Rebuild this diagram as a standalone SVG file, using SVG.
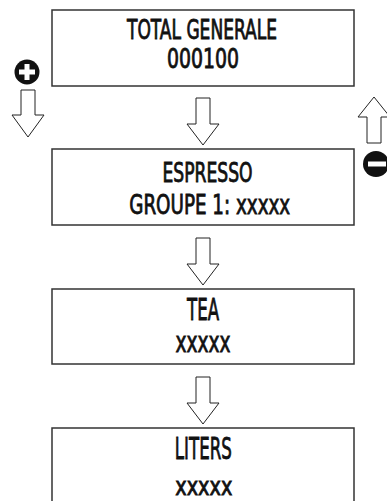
<svg xmlns="http://www.w3.org/2000/svg" width="387" height="501" viewBox="0 0 387 501">
<style>
.box{fill:#fff;stroke:#333;stroke-width:1.5}
.arr{fill:#fff;stroke:#222;stroke-width:1}
.t{font-family:"Liberation Sans Narrow","DejaVu Sans Condensed","Liberation Sans",sans-serif;font-weight:normal;fill:#111;stroke:#111;stroke-width:0.8;text-anchor:middle}
</style>
<rect width="387" height="501" fill="#fff"/>
<g id="node-total">
<rect class="box" x="52" y="10" width="302" height="76"/>
<text class="t" x="202" y="39.3" font-size="26" textLength="150" lengthAdjust="spacingAndGlyphs">TOTAL GENERALE</text>
<text class="t" x="203" y="68.3" font-size="26" textLength="72" lengthAdjust="spacingAndGlyphs">000100</text>
</g>
<g id="node-espresso">
<rect class="box" x="52" y="149" width="302" height="76"/>
<text class="t" x="207.5" y="182.3" font-size="26" textLength="90" lengthAdjust="spacingAndGlyphs">ESPRESSO</text>
<text class="t" x="209.7" y="214.3" font-size="26" textLength="161" lengthAdjust="spacingAndGlyphs">GROUPE 1: xxxxx</text>
</g>
<g id="node-tea">
<rect class="box" x="52" y="289" width="302" height="75"/>
<text class="t" x="203" y="320" font-size="31" textLength="32" lengthAdjust="spacingAndGlyphs">TEA</text>
<text class="t" x="203" y="351.7" font-size="28" textLength="55" lengthAdjust="spacingAndGlyphs">xxxxx</text>
</g>
<g id="node-liters">
<rect class="box" x="52" y="428" width="302" height="90"/>
<text class="t" x="203.3" y="459.3" font-size="31" textLength="57" lengthAdjust="spacingAndGlyphs">LITERS</text>
<text class="t" x="203.8" y="495" font-size="24" textLength="57" lengthAdjust="spacingAndGlyphs">xxxxx</text>
</g>
<g id="connectors">
<path class="arr" d="M196,98 H210 V124 H219 L203,145 L187,124 H196 Z"/>
<path class="arr" d="M196,238 H210 V264 H219 L203,285 L187,264 H196 Z"/>
<path class="arr" d="M196,377 H210 V403 H219 L203,424 L187,403 H196 Z"/>
<path class="arr" d="M21,90 H35 V115 H44 L28,137 L12,115 H21 Z"/>
<path class="arr" d="M374,97 L390,117 H381 V143 H367 V117 H358 Z"/>
</g>
<g id="icon-plus">
<circle cx="27" cy="72" r="12.5" fill="#111"/>
<rect x="24.5" y="64" width="5" height="16" fill="#fff"/>
<rect x="19" y="69.5" width="16" height="5" fill="#fff"/>
</g>
<g id="icon-minus">
<circle cx="376" cy="164" r="13" fill="#111"/>
<rect x="368" y="161.5" width="18" height="5" fill="#fff"/>
</g>
</svg>
